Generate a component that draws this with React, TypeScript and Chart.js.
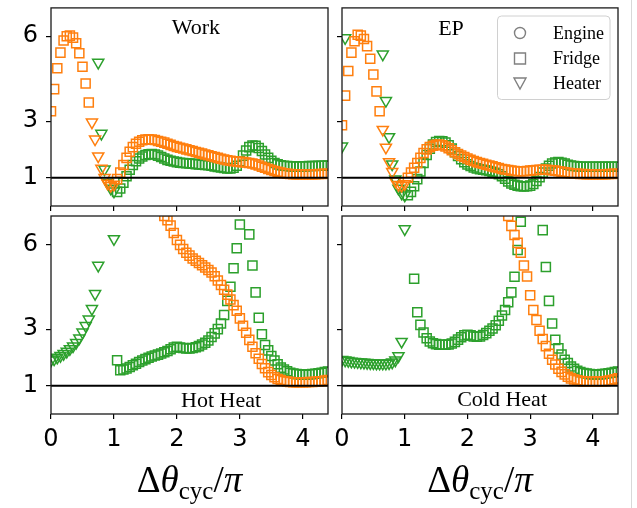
import React, { useEffect, useRef } from 'react';
import { Chart, registerables } from 'chart.js';

Chart.register(...registerables);

const _ = null;

// Δθ_cyc / π sample positions
const X_VALUES = [
  0.0, 0.05, 0.1, 0.15, 0.2, 0.25, 0.3, 0.35, 0.4, 0.45,
  0.5, 0.55, 0.6, 0.65, 0.7, 0.75, 0.8, 0.85, 0.9, 0.95,
  1.0, 1.05, 1.1, 1.15, 1.2, 1.25, 1.3, 1.35, 1.4, 1.45,
  1.5, 1.55, 1.6, 1.65, 1.7, 1.75, 1.8, 1.85, 1.9, 1.95,
  2.0, 2.05, 2.1, 2.15, 2.2, 2.25, 2.3, 2.35, 2.4, 2.45,
  2.5, 2.55, 2.6, 2.65, 2.7, 2.75, 2.8, 2.85, 2.9, 2.95,
  3.0, 3.05, 3.1, 3.15, 3.2, 3.25, 3.3, 3.35, 3.4, 3.45,
  3.5, 3.55, 3.6, 3.65, 3.7, 3.75, 3.8, 3.85, 3.9, 3.95,
  4.0, 4.05, 4.1, 4.15, 4.2, 4.25, 4.3, 4.35, 4.4,
];

const X_TICKS = [0, 1, 2, 3, 4];
const Y_TICKS = [1, 3, 6];
const X_RANGE = [0, 4.4];
const Y_RANGE = [0, 7];
const REFERENCE_LEVEL = 1;

// operating regime (Heater = triangle, otherwise Fridge = square)
const ORANGE_HEATER_RANGE = [0.65, 1.0];
const GREEN_HEATER_RANGE = [0.0, 1.0];

const WORK_ORANGE = [
  3.35, 4.13, 4.87, 5.42, 5.85, 6.00, 6.02, 5.95, 5.75, 5.40,
  4.92, 4.33, 3.66, 2.96, 2.36, 1.76, 1.33, 1.00, 0.80, 0.72,
  0.76, 0.95, 1.18, 1.45, 1.70, 1.92, 2.08, 2.20, 2.27, 2.32,
  2.35, 2.36, 2.35, 2.33, 2.30, 2.27, 2.24, 2.20, 2.16, 2.12,
  2.09, 2.06, 2.03, 2.00, 1.97, 1.94, 1.91, 1.88, 1.85, 1.82,
  1.79, 1.76, 1.73, 1.70, 1.67, 1.64, 1.62, 1.60, 1.58, 1.57,
  1.56, 1.55, 1.54, 1.52, 1.50, 1.47, 1.43, 1.39, 1.35, 1.31,
  1.27, 1.24, 1.21, 1.18, 1.16, 1.14, 1.13, 1.12, 1.12, 1.12,
  1.12, 1.12, 1.12, 1.12, 1.12, 1.13, 1.13, 1.14, 1.14,
];
const WORK_GREEN = [
  _, _, _, _, _, _, _, _, _, _,
  _, _, _, _, _, 5.07, 2.56, 1.30, 0.82, 0.62,
  0.52, 0.50, 0.62, 0.82, 1.05, 1.28, 1.45, 1.58, 1.68, 1.75,
  1.80, 1.83, 1.84, 1.82, 1.78, 1.73, 1.68, 1.63, 1.60, 1.57,
  1.55, 1.53, 1.52, 1.51, 1.50, 1.49, 1.48, 1.47, 1.46, 1.45,
  1.44, 1.42, 1.40, 1.38, 1.36, 1.34, 1.33, 1.33, 1.35, 1.42,
  1.58, 1.78, 1.96, 2.08, 2.14, 2.13, 2.05, 1.94, 1.82, 1.70,
  1.60, 1.52, 1.47, 1.44, 1.42, 1.41, 1.40, 1.40, 1.40, 1.40,
  1.40, 1.40, 1.41, 1.41, 1.41, 1.42, 1.42, 1.42, 1.43,
];
const EP_ORANGE = [
  2.85, 3.90, 4.77, 5.42, 5.82, 6.05, 6.02, 5.90, 5.65, 5.20,
  4.65, 4.05, 3.35, 2.70, 2.07, 1.56, 1.21, 0.88, 0.75, 0.72,
  0.78, 1.00, 1.18, 1.35, 1.52, 1.70, 1.87, 2.00, 2.08, 2.13,
  2.16, 2.17, 2.15, 2.10, 2.04, 1.97, 1.90, 1.84, 1.78, 1.73,
  1.68, 1.63, 1.59, 1.55, 1.52, 1.49, 1.46, 1.43, 1.40, 1.37,
  1.34, 1.31, 1.29, 1.27, 1.25, 1.24, 1.23, 1.23, 1.23, 1.24,
  1.25, 1.26, 1.27, 1.28, 1.28, 1.28, 1.27, 1.26, 1.25, 1.23,
  1.21, 1.19, 1.17, 1.16, 1.15, 1.14, 1.13, 1.13, 1.12, 1.12,
  1.12, 1.12, 1.12, 1.12, 1.12, 1.13, 1.13, 1.14, 1.14,
];
const EP_GREEN = [
  2.11, 5.94, _, _, _, _, _, _, _, _,
  _, _, _, 5.36, 3.72, 2.44, 1.48, 0.95, 0.62, 0.45,
  0.38, 0.38, 0.50, 0.70, 0.95, 1.22, 1.52, 1.80, 2.02, 2.17,
  2.26, 2.30, 2.29, 2.24, 2.15, 2.03, 1.90, 1.77, 1.65, 1.55,
  1.47, 1.41, 1.36, 1.33, 1.30, 1.28, 1.26, 1.24, 1.21, 1.17,
  1.12, 1.05, 0.96, 0.87, 0.80, 0.75, 0.72, 0.70, 0.69, 0.70,
  0.72, 0.78, 0.88, 1.02, 1.18, 1.32, 1.42, 1.50, 1.54, 1.55,
  1.53, 1.50, 1.46, 1.43, 1.41, 1.40, 1.39, 1.39, 1.39, 1.39,
  1.39, 1.39, 1.39, 1.39, 1.39, 1.39, 1.39, 1.39, 1.39,
];
const HOT_ORANGE = [
  _, _, _, _, _, _, _, _, _, _,
  _, _, _, _, _, _, _, _, _, _,
  _, _, _, _, _, _, _, _, _, _,
  _, _, _, _, _, _, 7.00, 6.85, 6.66, 6.40,
  6.15, 5.98, 5.83, 5.70, 5.60, 5.50, 5.42, 5.34, 5.26, 5.18,
  5.09, 5.00, 4.87, 4.72, 4.56, 4.39, 4.22, 4.05, 3.85, 3.65,
  3.38, 3.12, 2.87, 2.62, 2.38, 2.15, 1.95, 1.77, 1.62, 1.48,
  1.38, 1.30, 1.24, 1.20, 1.17, 1.15, 1.13, 1.12, 1.12, 1.12,
  1.12, 1.12, 1.13, 1.13, 1.14, 1.15, 1.16, 1.18, 1.20,
];
const HOT_GREEN = [
  1.90, 1.94, 2.00, 2.06, 2.13, 2.21, 2.30, 2.40, 2.52, 2.68,
  2.89, 3.12, 3.35, 3.72, 4.25, 5.25, _, _, _, _,
  6.19, 1.90, 1.55, 1.57, 1.61, 1.66, 1.72, 1.78, 1.84, 1.89,
  1.94, 1.99, 2.03, 2.07, 2.10, 2.14, 2.18, 2.23, 2.29, 2.35,
  2.38, 2.35, 2.33, 2.32, 2.32, 2.33, 2.36, 2.40, 2.46, 2.52,
  2.60, 2.72, 2.85, 3.00, 3.20, 3.50, 4.00, 4.50, 5.15, 5.86,
  6.70, _, _, 6.35, 5.25, 4.30, 3.40, 2.82, 2.44, 2.25,
  2.05, 1.89, 1.76, 1.64, 1.57, 1.51, 1.46, 1.43, 1.41, 1.40,
  1.39, 1.39, 1.40, 1.41, 1.42, 1.44, 1.46, 1.48, 1.50,
];
const COLD_ORANGE = [
  _, _, _, _, _, _, _, _, _, _,
  _, _, _, _, _, _, _, _, _, _,
  _, _, _, _, _, _, _, _, _, _,
  _, _, _, _, _, _, _, _, _, _,
  _, _, _, _, _, _, _, _, _, _,
  _, _, _, 7.00, 6.65, 6.33, 6.05, 5.70, 5.25, 4.86,
  4.20, 3.68, 3.32, 2.94, 2.65, 2.40, 2.13, 1.92, 1.75, 1.60,
  1.49, 1.40, 1.32, 1.26, 1.22, 1.19, 1.17, 1.15, 1.14, 1.14,
  1.14, 1.14, 1.15, 1.15, 1.16, 1.18, 1.20, 1.23, 1.26,
];
const COLD_GREEN = [
  1.92, 1.90, 1.88, 1.86, 1.85, 1.84, 1.83, 1.82, 1.81, 1.80,
  1.80, 1.79, 1.79, 1.79, 1.79, 1.80, 1.83, 1.90, 2.05, 2.56,
  6.54, _, _, 4.78, 3.60, 3.15, 2.88, 2.68, 2.56, 2.50,
  2.47, 2.45, 2.45, 2.45, 2.46, 2.49, 2.55, 2.63, 2.71, 2.78,
  2.80, 2.78, 2.74, 2.73, 2.74, 2.79, 2.86, 2.94, 3.02, 3.14,
  3.30, 3.48, 3.68, 3.95, 4.30, 4.85, 5.80, 6.80, _, _,
  _, _, _, _, 6.50, 5.20, 4.00, 3.20, 2.62, 2.32,
  2.10, 1.92, 1.80, 1.68, 1.60, 1.53, 1.48, 1.45, 1.43, 1.41,
  1.40, 1.39, 1.40, 1.41, 1.42, 1.44, 1.46, 1.48, 1.50,
];

const PANEL_TITLES = ['Work', 'EP', 'Hot Heat', 'Cold Heat'];
const LEGEND_LABELS = ['Engine', 'Fridge', 'Heater'];

const ORANGE = '#ff7f0e';
const GREEN = '#2ca02c';
const LEGEND_GRAY = '#808080';

const CANVAS_W = 637;
const CANVAS_H = 508;

type Area = { left: number; top: number; right: number; bottom: number };
interface PanelSpec {
  title: string;
  orange: (number | null)[];
  green: (number | null)[];
  area: Area;
  xLabels: boolean;
  yLabels: boolean;
  titleFrac: number;
  titleBaseline: number;
  legend: boolean;
}

const PANELS: PanelSpec[] = [
  { title: PANEL_TITLES[0], orange: WORK_ORANGE, green: WORK_GREEN, area: { left: 51, top: 7, right: 328, bottom: 206 }, xLabels: false, yLabels: true, titleFrac: 0.523, titleBaseline: 34, legend: false },
  { title: PANEL_TITLES[1], orange: EP_ORANGE, green: EP_GREEN, area: { left: 342, top: 7, right: 618, bottom: 206 }, xLabels: false, yLabels: false, titleFrac: 0.395, titleBaseline: 35, legend: true },
  { title: PANEL_TITLES[2], orange: HOT_ORANGE, green: HOT_GREEN, area: { left: 51, top: 216, right: 328, bottom: 414 }, xLabels: true, yLabels: true, titleFrac: 0.614, titleBaseline: 406.5, legend: false },
  { title: PANEL_TITLES[3], orange: COLD_ORANGE, green: COLD_GREEN, area: { left: 342, top: 216, right: 618, bottom: 414 }, xLabels: true, yLabels: false, titleFrac: 0.58, titleBaseline: 406, legend: false },
];

function inRange(x: number, r: number[]) {
  return x >= r[0] - 1e-9 && x <= r[1] + 1e-9;
}

function markerDataset(values: (number | null)[], heater: number[], color: string) {
  const styles = X_VALUES.map((x) => (inRange(x, heater) ? 'triangle' : 'rect'));
  return {
    data: X_VALUES.map((x, i) => ({ x, y: values[i] })),
    showLine: false,
    pointStyle: styles,
    pointRotation: styles.map((s) => (s === 'triangle' ? 180 : 0)),
    pointRadius: styles.map((s) => (s === 'triangle' ? 6.4 : 6.4)),
    pointBorderColor: color,
    pointBackgroundColor: 'rgba(0,0,0,0)',
    pointBorderWidth: 1.5,
    clip: 0,
  };
}

function drawXLabel(ctx: CanvasRenderingContext2D, cx: number, baseline: number) {
  const main = 37;
  const sub = 25;
  const parts = [
    { t: 'Δ', f: `${main}px "Liberation Serif"`, dy: 0 },
    { t: 'θ', f: `italic ${main}px "Liberation Serif"`, dy: 0 },
    { t: 'cyc', f: `${sub}px "Liberation Serif"`, dy: 7 },
    { t: '/', f: `${main}px "Liberation Serif"`, dy: 0 },
    { t: 'π', f: `italic ${main}px "Liberation Serif"`, dy: 0 },
  ];
  let total = 0;
  const widths = parts.map((p) => {
    ctx.font = p.f;
    const w = ctx.measureText(p.t).width;
    total += w;
    return w;
  });
  let x = cx - total / 2;
  ctx.fillStyle = '#000';
  ctx.textAlign = 'left';
  ctx.textBaseline = 'alphabetic';
  parts.forEach((p, i) => {
    ctx.font = p.f;
    ctx.fillText(p.t, x, baseline + p.dy);
    x += widths[i];
  });
}

function drawMarker(ctx: CanvasRenderingContext2D, kind: string, x: number, y: number) {
  ctx.beginPath();
  if (kind === 'circle') {
    ctx.arc(x, y, 5.5, 0, Math.PI * 2);
  } else if (kind === 'square') {
    ctx.rect(x - 5.5, y - 5.5, 11, 11);
  } else {
    ctx.moveTo(x - 6, y - 5);
    ctx.lineTo(x + 6, y - 5);
    ctx.lineTo(x, y + 6);
    ctx.closePath();
  }
  ctx.stroke();
}

function drawLegend(ctx: CanvasRenderingContext2D) {
  const l = 497.5, t = 16, w = 112.5, h = 83.5, r = 4;
  ctx.save();
  ctx.beginPath();
  ctx.moveTo(l + r, t);
  ctx.lineTo(l + w - r, t);
  ctx.quadraticCurveTo(l + w, t, l + w, t + r);
  ctx.lineTo(l + w, t + h - r);
  ctx.quadraticCurveTo(l + w, t + h, l + w - r, t + h);
  ctx.lineTo(l + r, t + h);
  ctx.quadraticCurveTo(l, t + h, l, t + h - r);
  ctx.lineTo(l, t + r);
  ctx.quadraticCurveTo(l, t, l + r, t);
  ctx.closePath();
  ctx.fillStyle = 'rgba(255,255,255,0.85)';
  ctx.fill();
  ctx.strokeStyle = '#d0d0d0';
  ctx.lineWidth = 1;
  ctx.stroke();
  const kinds = ['circle', 'square', 'triangle'];
  const rows = [33, 58.5, 83];
  ctx.strokeStyle = LEGEND_GRAY;
  ctx.lineWidth = 1.4;
  ctx.fillStyle = '#000';
  ctx.font = '18px "Liberation Serif"';
  ctx.textAlign = 'left';
  ctx.textBaseline = 'middle';
  LEGEND_LABELS.forEach((label, i) => {
    drawMarker(ctx, kinds[i], 520, rows[i]);
    ctx.fillText(label, 553, rows[i] + 1);
  });
  ctx.restore();
}

function PanelChart({ spec }: { spec: PanelSpec }) {
  const ref = useRef<HTMLCanvasElement>(null);
  useEffect(() => {
    const canvas = ref.current;
    if (!canvas) return;
    const yW = spec.yLabels ? spec.area.left : 20;
    const xH = spec.xLabels ? 60 : 6;
    const padding = {
      left: spec.area.left - yW,
      top: spec.area.top,
      right: CANVAS_W - spec.area.right,
      bottom: CANVAS_H - spec.area.bottom - xH,
    };
    const decor = {
      id: 'decor' + spec.title.replace(/\s/g, ''),
      afterDatasetsDraw(chart: any) {
        const { ctx, chartArea: a } = chart;
        ctx.save();
        ctx.strokeStyle = '#1a1a1a';
        ctx.lineWidth = 1.3;
        ctx.strokeRect(a.left, a.top, a.right - a.left, a.bottom - a.top);
        ctx.fillStyle = '#000';
        ctx.font = '22px "Liberation Serif"';
        ctx.textAlign = 'center';
        ctx.textBaseline = 'alphabetic';
        ctx.fillText(spec.title, a.left + spec.titleFrac * (a.right - a.left), spec.titleBaseline);
        if (spec.xLabels) drawXLabel(ctx, (a.left + a.right) / 2, 492);
        ctx.restore();
        if (spec.legend) drawLegend(ctx);
      },
    };
    const fixPadding = (s: any) => {
      s.paddingLeft = 0;
      s.paddingRight = 0;
      s.paddingTop = 0;
      s.paddingBottom = 0;
    };
    const chart = new Chart(canvas, {
      type: 'scatter',
      data: {
        datasets: [
          {
            data: [
              { x: X_RANGE[0], y: REFERENCE_LEVEL },
              { x: X_RANGE[1], y: REFERENCE_LEVEL },
            ],
            showLine: true,
            borderColor: '#000',
            borderWidth: 2,
            pointRadius: 0,
            clip: 0,
          } as any,
          markerDataset(spec.orange, ORANGE_HEATER_RANGE, ORANGE) as any,
          markerDataset(spec.green, GREEN_HEATER_RANGE, GREEN) as any,
        ],
      },
      options: {
        animation: false,
        responsive: false,
        events: [],
        layout: { padding },
        plugins: { legend: { display: false }, tooltip: { enabled: false } },
        scales: {
          x: {
            type: 'linear',
            min: X_RANGE[0],
            max: X_RANGE[1],
            afterBuildTicks: (s: any) => {
              s.ticks = X_TICKS.map((v) => ({ value: v }));
            },
            afterFit: (s: any) => {
              s.height = xH;
              fixPadding(s);
            },
            grid: { display: true, drawOnChartArea: false, drawTicks: true, tickLength: 5, color: '#000', lineWidth: 1.2 },
            border: { display: false },
            ticks: {
              display: spec.xLabels,
              autoSkip: false,
              maxRotation: 0,
              padding: 6,
              color: '#000',
              font: { family: '"DejaVu Sans"', size: 24 },
            },
          },
          y: {
            type: 'linear',
            min: Y_RANGE[0],
            max: Y_RANGE[1],
            afterBuildTicks: (s: any) => {
              s.ticks = Y_TICKS.map((v) => ({ value: v }));
            },
            afterFit: (s: any) => {
              s.width = yW;
              fixPadding(s);
            },
            grid: { display: true, drawOnChartArea: false, drawTicks: true, tickLength: 5, color: '#000', lineWidth: 1.2 },
            border: { display: false },
            ticks: {
              display: spec.yLabels,
              autoSkip: false,
              padding: 8,
              color: '#000',
              font: { family: '"DejaVu Sans"', size: 24 },
            },
          },
        },
      } as any,
      plugins: [decor],
    });
    return () => chart.destroy();
  }, [spec]);
  return (
    <canvas
      ref={ref}
      width={CANVAS_W}
      height={CANVAS_H}
      style={{ position: 'absolute', left: 0, top: 0, width: CANVAS_W, height: CANVAS_H }}
    />
  );
}

export default function App() {
  return (
    <div style={{ position: 'absolute', left: 0, top: 0, width: CANVAS_W, height: CANVAS_H, background: '#fff' }}>
      {PANELS.map((p) => (
        <PanelChart key={p.title} spec={p} />
      ))}
      <div style={{ position: 'absolute', left: 631, top: 0, width: 1, height: CANVAS_H, background: '#d8d8d8' }} />
    </div>
  );
}
